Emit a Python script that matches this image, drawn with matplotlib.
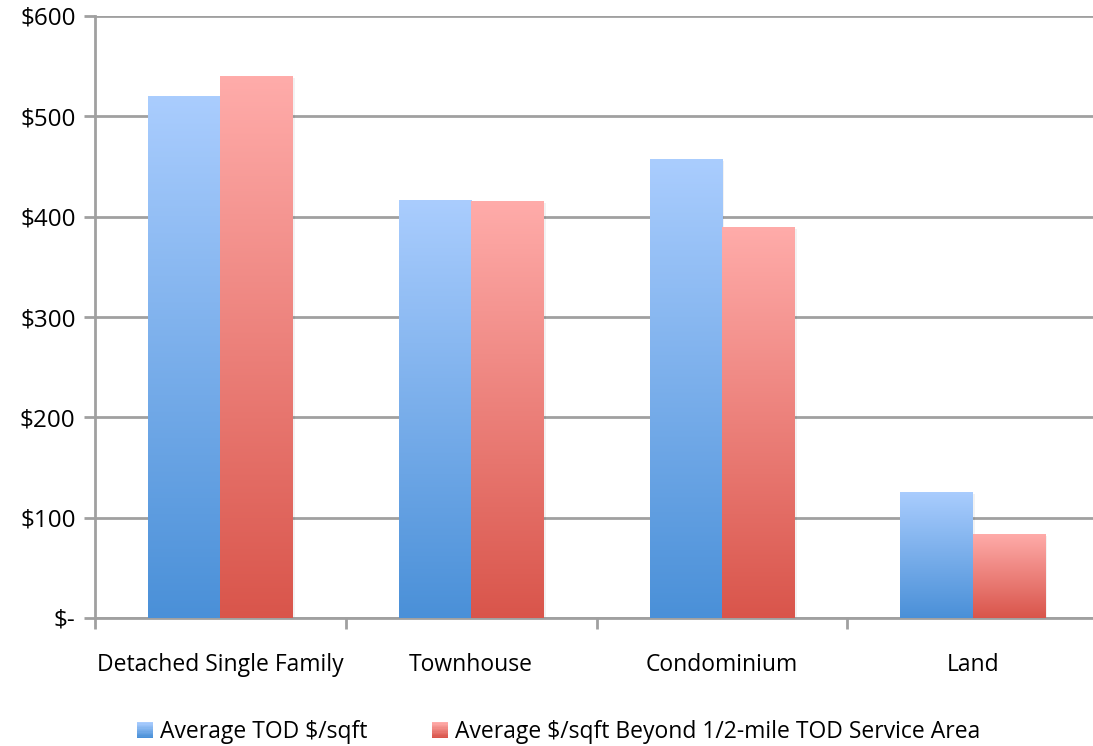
import numpy as np
import matplotlib.pyplot as plt
from matplotlib.colors import LinearSegmentedColormap
from matplotlib.patches import Rectangle
from matplotlib.legend_handler import HandlerBase

categories = ["Detached Single Family", "Townhouse", "Condominium", "Land"]
tod_values = [520, 417, 457, 126]
beyond_values = [540, 416, 390, 84]
series_names = ["Average TOD $/sqft", "Average $/sqft Beyond 1/2-mile TOD Service Area"]
ytick_vals = [0, 100, 200, 300, 400, 500, 600]
ytick_labels = ["$-", "$100", "$200", "$300", "$400", "$500", "$600"]

blue_cmap = LinearSegmentedColormap.from_list("b", ["#4A90D8", "#AACDFE"])
red_cmap = LinearSegmentedColormap.from_list("r", ["#D9554B", "#FFACAA"])

plt.rcParams['font.family'] = ['Open Sans', 'DejaVu Sans']

fig = plt.figure(figsize=(10.93, 7.46), dpi=100)
ax = fig.add_axes([95 / 1093, 128 / 746, 1003 / 1093, 602 / 746])

x = np.arange(len(categories)) + 0.5
w = 0.288
grad = np.linspace(0, 1, 256).reshape(-1, 1)

for vals, cmap, off in [(tod_values, blue_cmap, -w / 2), (beyond_values, red_cmap, w / 2)]:
    bars = ax.bar(x + off, vals, width=w, color="none", edgecolor="none", zorder=3)
    for b in bars:
        x0, h = b.get_x(), b.get_height()
        # soft shadow
        ax.add_patch(Rectangle((x0 + 0.01, 0), w, h - 2, color="#000000", alpha=0.05,
                               linewidth=0, zorder=2.5))
        im = ax.imshow(grad, cmap=cmap, aspect="auto", origin="lower",
                       extent=[x0, x0 + w, 0, h], zorder=3)
        im.set_clip_path(b)

ax.set_xlim(0, 4)
ax.set_ylim(0, 600)
ax.set_yticks(ytick_vals)
ax.set_yticklabels(ytick_labels)
ax.set_xticks([0, 1, 2, 3, 4])
ax.set_xticklabels([])
ax.set_xticks(x, minor=True)
ax.set_xticklabels(categories, minor=True)
ax.tick_params(axis="x", which="minor", length=0, pad=25, labelsize=16.5)
ax.tick_params(axis="x", which="major", length=8, width=2, color="#A0A0A0")
ax.tick_params(axis="y", length=8, width=2, color="#A0A0A0", labelsize=17.5, pad=6)
ax.yaxis.grid(True, color="#A0A0A0", linewidth=2, zorder=1)
ax.set_axisbelow(True)
for s in ["top", "right"]:
    ax.spines[s].set_visible(False)
for s in ["left", "bottom"]:
    ax.spines[s].set_color("#A0A0A0")
    ax.spines[s].set_linewidth(2)


class GradHandler(HandlerBase):
    def __init__(self, cmap):
        super().__init__()
        self.cmap = cmap

    def create_artists(self, legend, orig_handle, xdescent, ydescent, width, height, fontsize, trans):
        n = 12
        size = height * 1.0
        x0 = width - size
        arts = []
        for i in range(n):
            r = Rectangle((x0, -ydescent + size * i / n), size, size / n + 0.3,
                          color=self.cmap(i / (n - 1)), linewidth=0, transform=trans)
            arts.append(r)
        return arts


h1 = Rectangle((0, 0), 1, 1)
h2 = Rectangle((0, 0), 1, 1)
fig.legend([h1, h2], series_names, loc="center", bbox_to_anchor=(0.509, 14 / 746),
           ncol=2, frameon=False, fontsize=16.5, handlelength=0.9, handletextpad=0.3,
           columnspacing=2.65,
           handler_map={h1: GradHandler(blue_cmap), h2: GradHandler(red_cmap)})

fig.savefig("out.png", dpi=100)
